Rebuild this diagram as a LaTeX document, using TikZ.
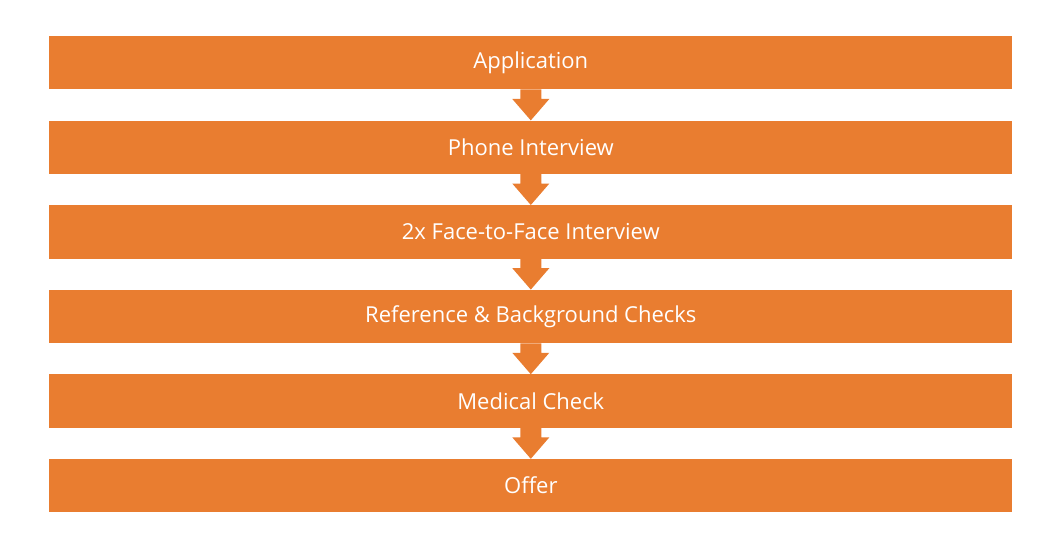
\documentclass[tikz,border=0pt]{standalone}
\usepackage{fontspec}
\setmainfont{Open Sans}
\usetikzlibrary{calc}
\definecolor{boxorange}{HTML}{E97D30}
\tikzset{
  stagebox/.style={fill=boxorange, draw=none, minimum width=963pt, minimum height=53.3pt,
    inner sep=0pt, text=white, font=\fontsize{22}{26}\selectfont},
  flowarrow/.style={fill=boxorange, draw=none}
}
\newcommand{\blockarrow}[2]{%
  \fill[flowarrow] ($(#1.south)+(-10.5,0)$) -- ++(0,9.5) -- ++(-8,0) -- (#2.north)
    -- ($(#1.south)+(18.5,9.5)$) -- ++(-8,0) -- ($(#1.south)+(10.5,0)$) -- cycle;}
\begin{document}
\begin{tikzpicture}[x=1pt,y=-1pt]
\useasboundingbox (0,0) rectangle (1064,545);
\node[stagebox] (s1) at (530.8,62.65) {Application};
\node[stagebox] (s2) at (530.8,147.25) {Phone Interview};
\node[stagebox] (s3) at (530.8,231.85) {2x Face-to-Face Interview};
\node[stagebox] (s4) at (530.8,316.45) {Reference \& Background Checks};
\node[stagebox] (s5) at (530.8,401.05) {Medical Check};
\node[stagebox] (s6) at (530.8,485.65) {Offer};
\blockarrow{s1}{s2}
\blockarrow{s2}{s3}
\blockarrow{s3}{s4}
\blockarrow{s4}{s5}
\blockarrow{s5}{s6}
\end{tikzpicture}
\end{document}
